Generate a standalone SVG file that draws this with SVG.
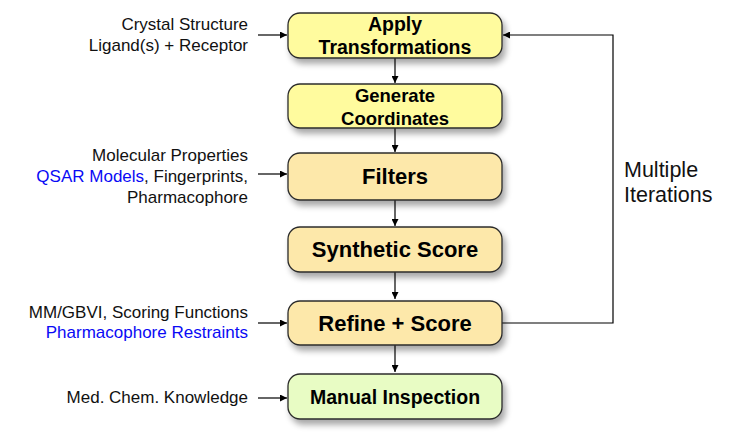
<svg xmlns="http://www.w3.org/2000/svg" width="730" height="445" viewBox="0 0 730 445">
<defs>
<filter id="sh" x="-10%" y="-20%" width="125%" height="160%">
<feGaussianBlur in="SourceAlpha" stdDeviation="3"/>
<feOffset dx="3" dy="5" result="b"/>
<feComponentTransfer><feFuncA type="linear" slope="0.35"/></feComponentTransfer>
<feMerge><feMergeNode/><feMergeNode in="SourceGraphic"/></feMerge>
</filter>
<marker id="ah" viewBox="0 0 10 10" refX="10" refY="5" markerWidth="7" markerHeight="7" markerUnits="userSpaceOnUse" orient="auto">
<path d="M0,0 L10,5 L0,10 z" fill="#000"/>
</marker>
</defs>
<style>
.box{stroke:#2b2b2b;stroke-width:1.3;filter:url(#sh)}
.y{fill:#FFFB9E}
.o{fill:#FDE8AA}
.g{fill:#E8FCC4}
.nt{font-family:"Liberation Sans",Arial,sans-serif;font-weight:bold;fill:#000;text-anchor:middle}
.lt{font-family:"Liberation Sans",Arial,sans-serif;font-size:17px;fill:#111;text-anchor:end}
.blue{fill:#0a0af5}
.c{stroke:#000;stroke-width:1.2;fill:none;marker-end:url(#ah)}
</style>
<rect width="730" height="445" fill="#fff"/>
<g id="connectors">
<line class="c" x1="395" y1="58" x2="395" y2="83"/>
<line class="c" x1="395" y1="128" x2="395" y2="152"/>
<line class="c" x1="395" y1="200" x2="395" y2="226"/>
<line class="c" x1="395" y1="272" x2="395" y2="299"/>
<line class="c" x1="395" y1="345" x2="395" y2="372"/>
<polyline class="c" points="502,323 613,323 613,35 503,35"/>
<line class="c" x1="258" y1="35" x2="287" y2="35"/>
<line class="c" x1="258" y1="174" x2="287" y2="174"/>
<line class="c" x1="258" y1="323" x2="287" y2="323"/>
<line class="c" x1="258" y1="398" x2="287" y2="398"/>
</g>
<g id="apply">
<rect class="box y" x="288" y="13" width="214" height="45" rx="12"/>
<text class="nt" x="395" y="31" font-size="19.5">Apply</text>
<text class="nt" x="395" y="54" font-size="19.5">Transformations</text>
</g>
<g id="generate">
<rect class="box y" x="288" y="84" width="214" height="44" rx="12"/>
<text class="nt" x="395" y="102" font-size="18.5">Generate</text>
<text class="nt" x="395" y="124.5" font-size="18.5">Coordinates</text>
</g>
<g id="filters">
<rect class="box o" x="288" y="153" width="214" height="47" rx="12"/>
<text class="nt" x="395" y="183.5" font-size="22">Filters</text>
</g>
<g id="synthetic">
<rect class="box o" x="288" y="227" width="214" height="45" rx="12"/>
<text class="nt" x="395" y="257" font-size="22">Synthetic Score</text>
</g>
<g id="refine">
<rect class="box o" x="288" y="301" width="214" height="44" rx="12"/>
<text class="nt" x="395" y="331" font-size="22">Refine + Score</text>
</g>
<g id="manual">
<rect class="box g" x="288" y="374" width="214" height="45" rx="12"/>
<text class="nt" x="395" y="404" font-size="19.5">Manual Inspection</text>
</g>
<g id="input-crystal">
<text class="lt" x="248" y="30">Crystal Structure</text>
<text class="lt" x="248" y="50.5">Ligand(s) + Receptor</text>
</g>
<g id="input-filters">
<text class="lt" x="248" y="161">Molecular Properties</text>
<text class="lt" x="248" y="182"><tspan class="blue">QSAR Models</tspan>, Fingerprints,</text>
<text class="lt" x="248" y="202.5">Pharmacophore</text>
</g>
<g id="input-refine">
<text class="lt" x="248" y="317.5">MM/GBVI, Scoring Functions</text>
<text class="lt blue" x="248" y="337.5">Pharmacophore Restraints</text>
</g>
<g id="input-manual">
<text class="lt" x="248" y="402.5">Med. Chem. Knowledge</text>
</g>
<g id="iterations-label">
<text font-family="Liberation Sans, Arial, sans-serif" font-size="21.5" fill="#111" x="624" y="177">Multiple</text>
<text font-family="Liberation Sans, Arial, sans-serif" font-size="21.5" fill="#111" x="624" y="202">Iterations</text>
</g>
</svg>
